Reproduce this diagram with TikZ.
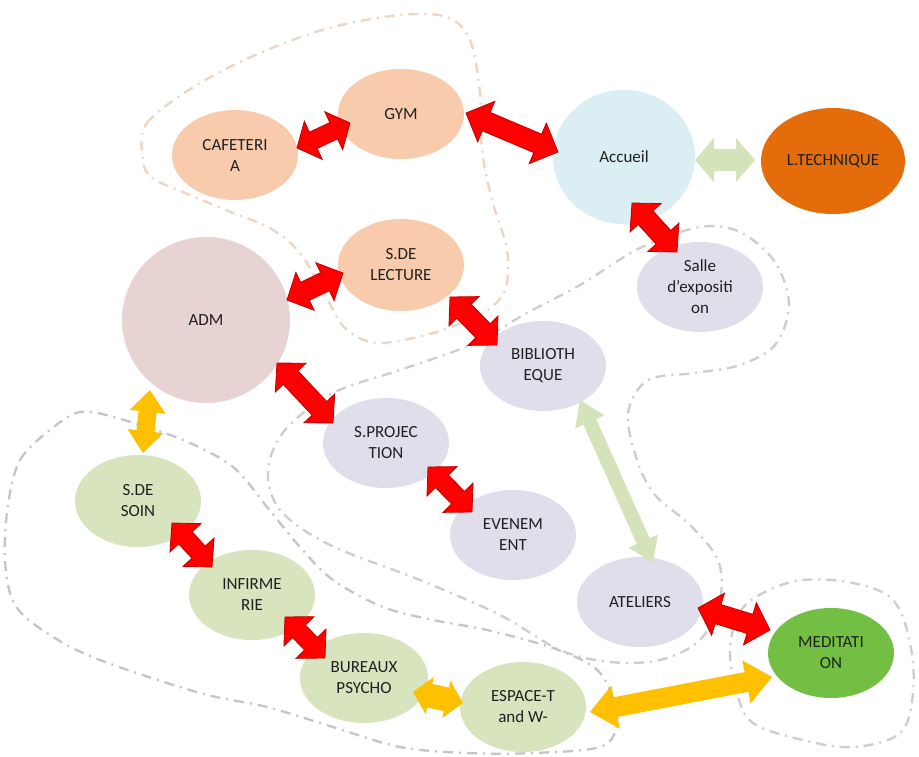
\documentclass[tikz,border=0pt]{standalone}
\usepackage{fontspec}
\setmainfont{Carlito}
\usetikzlibrary{shapes.geometric,calc}
\definecolor{peach}{HTML}{F8CBAD}
\definecolor{admpink}{HTML}{E8D3D3}
\definecolor{accblue}{HTML}{DAEEF3}
\definecolor{techorange}{HTML}{E46C0A}
\definecolor{lav}{HTML}{E1DEEC}
\definecolor{lgreen}{HTML}{D7E4BD}
\definecolor{medgreen}{HTML}{72BF44}
\definecolor{txt}{HTML}{202020}
\definecolor{arrred}{HTML}{FF0000}
\definecolor{arrredline}{HTML}{C00000}
\definecolor{arryellow}{HTML}{FFC000}
\definecolor{arrgreen}{HTML}{D5E3BA}
\definecolor{outA}{HTML}{EDD5C2}
\definecolor{outB}{HTML}{CDCDCD}
\definecolor{outC}{HTML}{C4C4CE}
\definecolor{outD}{HTML}{D0CCCC}
\newcommand\fatarr[6]{% #1 style, #2 from, #3 to, #4 shaft half width, #5 head half width, #6 head length
  \path let \p1=#2, \p2=#3, \n1={atan2(\y2-\y1,\x2-\x1)}, \n2={veclen(\x2-\x1,\y2-\y1)} in
    \pgfextra{\pgfmathparse{\n1}\xdef\FAang{\pgfmathresult}%
      \pgfmathparse{\n2}\xdef\FAlen{\pgfmathresult}%
      \xdef\FAx{\x1}\xdef\FAy{\y1}};
  \begin{scope}[shift={(\FAx,\FAy)},rotate=\FAang,x=1pt,y=1pt]
    \path[#1] (0,0) -- (#6,#5) -- (#6,#4) -- ({\FAlen-#6},#4) -- ({\FAlen-#6},#5)
      -- (\FAlen,0) -- ({\FAlen-#6},-#5) -- ({\FAlen-#6},-#4) -- (#6,-#4) -- (#6,-#5) -- cycle;
  \end{scope}}
\begin{document}
\begin{tikzpicture}[x=1pt,y=-1pt,
  room/.style={ellipse, minimum width=126pt, minimum height=90pt, inner sep=0pt,
    align=center, text=txt, font=\fontsize{17}{21}\selectfont},
  grp/.style={line width=2.3pt, dash pattern=on 10pt off 6pt on 2pt off 6pt},
  redarr/.style={fill=arrred, draw=arrredline, line width=0.8pt, line join=miter},
  yelarr/.style={fill=arryellow},
  grnarr/.style={fill=arrgreen}]
\fill[white] (0,0) rectangle (919,756);
\useasboundingbox (0,0) rectangle (919,756);
% group outlines
\draw[grp, outA] plot[smooth cycle, tension=0.55] coordinates {(143,160) (147,123) (200,83) (267,50) (333,27) (400,15) (447,17) (470,40) (480,93) (482,150) (492,200) (507,250) (505,290) (483,313) (433,333) (377,343) (345,328) (325,295) (300,253) (270,228) (233,213) (183,192) (152,178)};
\draw[grp, outB] plot[smooth cycle, tension=0.55] coordinates {(400,370) (470,345) (527,313) (580,285) (640,248) (700,227) (740,232) (775,262) (789,305) (775,345) (740,365) (695,373) (648,380) (628,413) (637,460) (655,495) (690,525) (718,560) (720,600) (700,640) (660,660) (610,662) (560,650) (500,615) (420,580) (330,545) (280,510) (268,470) (285,430) (333,393)};
\draw[grp, outC] plot[smooth cycle, tension=0.55] coordinates {(8,505) (20,460) (50,430) (80,412) (117,418) (183,440) (233,467) (267,507) (300,547) (333,580) (383,607) (433,620) (487,630) (553,648) (595,668) (612,695) (617,725) (600,747) (533,753) (467,753) (400,747) (333,727) (267,707) (200,693) (100,660) (50,635) (15,605) (5,560)};
\draw[grp, outD] plot[smooth cycle, tension=0.6] coordinates {(730,650) (740,612) (765,592) (803,580) (853,583) (893,600) (910,643) (913,693) (900,733) (853,747) (803,740) (753,723) (737,693)};
% rooms
\node[room, fill=peach] (caf) at (235,155) {CAFETERI\\A};
\node[room, fill=peach] (gym) at (401,114) {GYM};
\node[room, fill=accblue, minimum width=142pt, minimum height=134pt] (acc) at (624,157) {Accueil};
\node[room, fill=techorange, minimum width=144pt, minimum height=106pt] (ltech) at (833,161) {L.TECHNIQUE};
\node[room, fill=lav] (salle) at (700,287) {Salle\\d’expositi\\on};
\node[room, fill=peach, minimum height=92pt] (lect) at (401,265) {S.DE\\LECTURE};
\node[room, fill=admpink, minimum width=168pt, minimum height=166pt] (adm) at (206,320) {ADM};
\node[room, fill=lav] (bib) at (543,366) {BIBLIOTH\\EQUE};
\node[room, fill=lav] (proj) at (386,443) {S.PROJEC\\TION};
\node[room, fill=lav] (even) at (513,535) {EVENEM\\ENT};
\node[room, fill=lav] (atel) at (640,602) {ATELIERS};
\node[room, fill=medgreen] (medi) at (831,653) {MEDITATI\\ON};
\node[room, fill=lgreen] (esp) at (523,707) {ESPACE-T\\and W-};
\node[room, fill=lgreen, minimum width=128pt] (bur) at (364,678) {BUREAUX\\PSYCHO};
\node[room, fill=lgreen] (inf) at (252,595) {INFIRME\\RIE};
\node[room, fill=lgreen, minimum height=92pt] (soin) at (138,501) {S.DE\\SOIN};
% connectors
\fatarr{redarr}{($(caf)+(62,-7)$)}{($(gym)+(-51,9)$)}{9}{21}{18}
\fatarr{redarr}{($(gym)+(65,-1)$)}{($(acc)+(-66,-5)$)}{10}{22}{22}
\fatarr{grnarr}{($(acc)+(71,3)$)}{($(ltech)+(-78,-1)$)}{11}{22}{19}
\fatarr{redarr}{($(acc)+(8,46)$)}{($(salle)+(-23,-35)$)}{10}{21}{20}
\fatarr{redarr}{($(adm)+(81,-20)$)}{($(lect)+(-58,8)$)}{10}{21}{20}
\fatarr{redarr}{($(lect)+(49,32)$)}{($(bib)+(-46,-21)$)}{10}{21}{20}
\fatarr{redarr}{($(adm)+(71,43)$)}{($(proj)+(-53,-20)$)}{10}{21}{20}
\fatarr{redarr}{($(proj)+(42,24)$)}{($(even)+(-41,-23)$)}{9}{21}{20}
\fatarr{grnarr}{($(bib)+(37,34)$)}{($(atel)+(13,-39)$)}{7}{16}{24}
\fatarr{redarr}{($(atel)+(58,6)$)}{($(medi)+(-61,-23)$)}{10}{22}{21}
\fatarr{yelarr}{($(adm)+(-56,70)$)}{($(soin)+(5,-48)$)}{9}{18}{22}
\fatarr{redarr}{($(soin)+(34,22)$)}{($(inf)+(-40,-28)$)}{9}{21}{20}
\fatarr{redarr}{($(inf)+(33,22)$)}{($(bur)+(-39,-20)$)}{9}{21}{20}
\fatarr{yelarr}{($(bur)+(49,14)$)}{($(esp)+(-60,-4)$)}{12}{19}{17}
\fatarr{yelarr}{($(esp)+(67,5)$)}{($(medi)+(-59,24)$)}{10}{22}{26}
\end{tikzpicture}
\end{document}
